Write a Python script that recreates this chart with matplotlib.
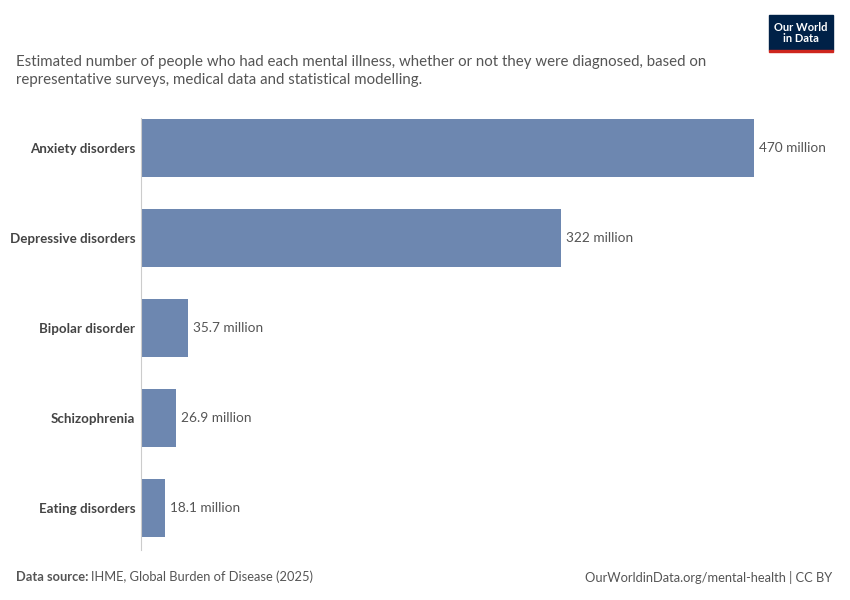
import matplotlib
matplotlib.use("Agg")
import matplotlib.pyplot as plt
from matplotlib.patches import Rectangle

categories = ["Anxiety disorders", "Depressive disorders", "Bipolar disorder", "Schizophrenia", "Eating disorders"]
values = [470, 322, 35.7, 26.9, 18.1]
labels = ["470 million", "322 million", "35.7 million", "26.9 million", "18.1 million"]

plt.rcParams['font.family'] = ['Lato', 'DejaVu Sans']
W, H = 850, 600
fig = plt.figure(figsize=(W/100, H/100), dpi=100)
ax = fig.add_axes([141/W, 1-553/H, (754-141)/W, 450/H])
ys = list(range(len(categories)))
ax.barh(ys, values, height=0.644, color="#6D87B0")
ax.set_xlim(0, 470)
ax.set_ylim(len(categories)-0.5, -0.5)
for y, v, l in zip(ys, values, labels):
    ax.text(v + 4, y, l, va="center", ha="left", fontsize=9.8, color="#555555", clip_on=False)
ax.set_yticks(ys)
ax.set_yticklabels(categories, fontsize=9.6, color="#444444", fontweight="bold")
ax.tick_params(axis="y", length=0, pad=4)
ax.set_xticks([])
for s in ["top", "right", "bottom"]:
    ax.spines[s].set_visible(False)
ax.spines["left"].set_color("#cccccc")
ax.spines["left"].set_bounds(-0.33, 4.47)

fig.text(16/W, 1-71/H, "Estimated number of people who had each mental illness, whether or not they were diagnosed, based on\nrepresentative surveys, medical data and statistical modelling.",
         fontsize=10.8, color="#555555", va="center", ha="left", linespacing=1.3)
fig.text(16/W, 1-577/H, "Data source:", fontsize=9.3, color="#555555", fontweight="bold", va="center")
fig.text(91/W, 1-577/H, "IHME, Global Burden of Disease (2025)", fontsize=9.3, color="#555555", va="center")
fig.text(832/W, 1-577/H, "OurWorldinData.org/mental-health | CC BY", fontsize=9.3, color="#555555", va="center", ha="right")

fig.patches.append(Rectangle((769/W, 1-50/H), 64/W, 35/H, transform=fig.transFigure, color="#002147"))
fig.patches.append(Rectangle((769/W, 1-52/H), 64/W, 2.5/H, transform=fig.transFigure, color="#CE261E"))
fig.text(801/W, 1-33/H, "Our World\nin Data", fontsize=8, color="white", ha="center", va="center", fontweight="bold", linespacing=1.0)
fig.savefig("out.png", dpi=100)
